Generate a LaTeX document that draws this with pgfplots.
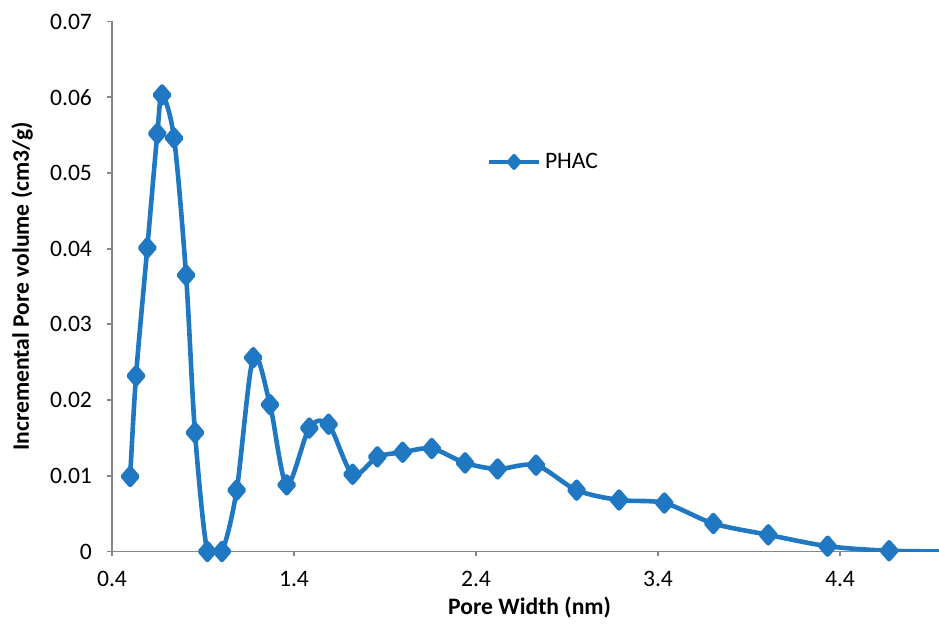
\documentclass[border=0pt]{standalone}
\usepackage{fontspec}
\setmainfont{Carlito}
\usepackage{pgfplots}
\pgfplotsset{compat=1.18}
\definecolor{phac}{RGB}{31,120,193}
\definecolor{axgray}{RGB}{134,134,134}

\begin{document}
\begin{tikzpicture}
\begin{axis}[
  scale only axis,
  width=413.5pt, height=265pt,
  xmin=0.4, xmax=4.944, ymin=0, ymax=0.07,
  axis x line=bottom, axis y line=left,
  axis line style={axgray, line width=0.9pt, -},
  xtick={0.4,1.4,2.4,3.4,4.4},
  ytick={0,0.01,0.02,0.03,0.04,0.05,0.06,0.07},
  tick style={axgray, line width=0.9pt},
  major tick length=2.5pt,
  tick align=outside,
  scaled y ticks=false,
  /pgf/number format/assume math mode=true,
  tick label style={font=\fontsize{11.8}{14}\selectfont, black},
  yticklabel style={/pgf/number format/fixed, /pgf/number format/precision=2, xshift=-4pt},
  xticklabel style={/pgf/number format/fixed, /pgf/number format/precision=1, /pgf/number format/fixed zerofill, yshift=-4pt},
  xlabel={Pore Width (nm)},
  ylabel={Incremental Pore volume (cm3/g)},
  label style={font=\fontsize{11.8}{14}\selectfont\bfseries},
  xlabel style={at={(axis description cs:0.505,0)}, anchor=center, yshift=-28pt},
  ylabel style={at={(axis description cs:-0.1088,0.5)}, anchor=center},
  legend style={at={(axis description cs:0.453,0.735)}, anchor=west, draw=none, fill=none,
    inner sep=0pt, font=\fontsize{11.8}{14}\selectfont},
  legend cell align=left,
  legend image code/.code={\draw[mark repeat=2, mark phase=2, #1, line width=2pt, mark size=3pt]
    plot coordinates {(0pt,0pt) (12.5pt,0pt) (25pt,0pt)};},
]
\addplot[phac, line width=2.3pt, smooth, tension=0.5, line join=round,
  mark=diamond*, mark size=4.2pt, mark options={xscale=1.15, solid}]
coordinates {
(0.500,0.0099) (0.532,0.0232) (0.594,0.0401) (0.649,0.0552) (0.675,0.0603)
(0.741,0.0546) (0.807,0.0365) (0.856,0.0157) (0.924,0) (1.004,0)
(1.085,0.0081) (1.176,0.0256) (1.268,0.0194) (1.360,0.0088) (1.484,0.0163)
(1.590,0.0168) (1.722,0.0102) (1.858,0.0125) (1.997,0.0131) (2.157,0.0136)
(2.340,0.0117) (2.519,0.0109) (2.730,0.0114) (2.953,0.0081) (3.186,0.0068)
(3.435,0.0064) (3.704,0.0037) (4.006,0.0022) (4.332,0.0007) (4.670,0.0001)
(5.080,0)
};
\addlegendentry{PHAC}
\end{axis}
\pgfresetboundingbox
\path (-56pt,-36.75pt) rectangle (413.5pt,275.75pt);
\end{tikzpicture}
\end{document}
